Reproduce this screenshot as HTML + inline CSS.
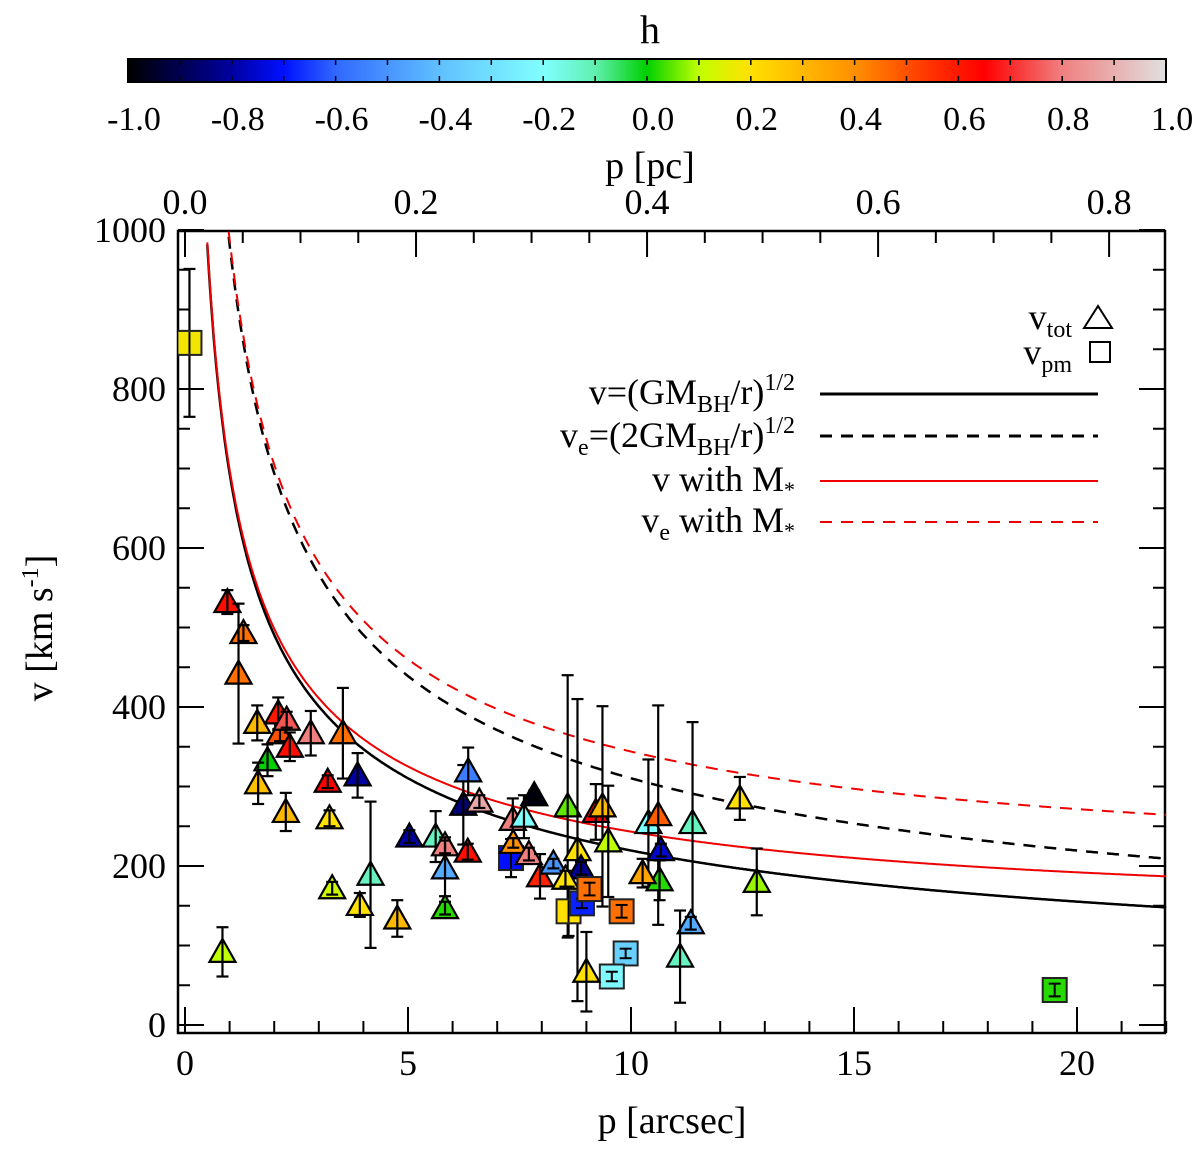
<!DOCTYPE html>
<html><head><meta charset="utf-8"><style>
html,body{margin:0;padding:0;background:#fff;}
svg{display:block;font-family:"Liberation Serif",serif;}
</style></head><body>
<svg id="chart" width="1200" height="1149" viewBox="0 0 1200 1149" xmlns="http://www.w3.org/2000/svg">
<defs><linearGradient id="cbgrad" x1="0" x2="1" y1="0" y2="0"></linearGradient></defs>
<g id="cb"></g>
<g id="axes"></g>
<g id="curves"></g>
<g id="pts"></g>
<g id="legend">
 <text x="1072" y="329" font-size="36" text-anchor="end">v<tspan font-size="24" dy="8">tot</tspan></text>
 <polygon points="1084,328 1098,306 1112,328" fill="none" stroke="#000" stroke-width="2"/>
 <text x="1072" y="364" font-size="36" text-anchor="end">v<tspan font-size="24" dy="8">pm</tspan></text>
 <rect x="1090" y="342" width="20" height="20" fill="none" stroke="#000" stroke-width="2"/>
 <text x="795" y="404" font-size="36" text-anchor="end">v=(GM<tspan font-size="24" dy="8">BH</tspan><tspan dy="-8">/r)</tspan><tspan font-size="24" dy="-14">1/2</tspan></text>
 <line x1="820" y1="394" x2="1098" y2="394" stroke="#000" stroke-width="3"/>
 <text x="795" y="447" font-size="36" text-anchor="end">v<tspan font-size="24" dy="8">e</tspan><tspan dy="-8">=(2GM</tspan><tspan font-size="24" dy="8">BH</tspan><tspan dy="-8">/r)</tspan><tspan font-size="24" dy="-14">1/2</tspan></text>
 <line x1="820" y1="436" x2="1098" y2="436" stroke="#000" stroke-width="3" stroke-dasharray="12,9"/>
 <text x="795" y="491" font-size="36" text-anchor="end">v with M<tspan font-size="22" dy="6">*</tspan></text>
 <line x1="820" y1="481" x2="1098" y2="481" stroke="#e00" stroke-width="2"/>
 <text x="795" y="532" font-size="36" text-anchor="end">v<tspan font-size="24" dy="8">e</tspan><tspan dy="-8"> with M</tspan><tspan font-size="22" dy="6">*</tspan></text>
 <line x1="820" y1="522" x2="1098" y2="522" stroke="#e00" stroke-width="2" stroke-dasharray="12,9"/>
</g>
</svg>
<script>
// ---- data ----
const pArc = [0.1,0.95,1.31,1.2,1.62,2.09,2.13,2.28,2.35,2.82,3.54,1.85,1.64,3.2,3.87,2.26,3.24,5.03,5.62,5.83,6.34,5.83,5.83,4.16,3.3,3.92,4.76,0.84,6.24,6.35,6.6,7.35,7.6,7.83,7.31,7.36,7.71,7.96,8.26,8.58,8.8,8.88,8.53,8.6,8.9,9.07,9.79,9.88,9.57,9.0,9.21,9.36,9.49,10.39,10.61,10.67,10.64,10.26,11.38,11.34,11.1,12.44,12.82,19.5];
const vel = [858,532,493,442,380,392,367,384,350,367,367,333,304,306,314,268,260,237,237,226,218,197,147,189,172,151,134,92,277,319,281,258,262,289,210,229,215,187,203,275,220,197,184,143,153,171,143,90,61,67,268,275,231,254,264,220,182,191,254,128,86,285,180,44];
const errV = [93,15,10,88,22,20,10,10,18,28,57,20,26,8,28,24,10,8,32,10,10,35,8,92,8,15,23,31,50,30,8,27,27,6,24,6,8,28,6,165,190,8,10,31,6,8,8,6,6,50,35,126,70,80,138,8,25,18,127,8,58,27,42,8];
const hVal = [0.18,0.62,0.45,0.45,0.3,0.6,0.5,0.75,0.62,0.8,0.45,0.0,0.28,0.65,-0.8,0.3,0.2,-0.8,-0.12,0.8,0.62,-0.45,0.02,-0.12,0.12,0.2,0.3,0.1,-0.85,-0.55,0.88,0.8,-0.2,-0.98,-0.7,0.4,0.8,0.58,-0.5,0.05,0.2,-0.82,0.2,0.2,-0.68,0.45,0.45,-0.35,-0.22,0.2,0.65,0.3,0.1,-0.2,0.48,-0.75,0.02,0.35,-0.12,-0.45,-0.12,0.2,0.08,0.02];
const kind = ['s','t','t','t','t','t','t','t','t','t','t','t','t','t','t','t','t','t','t','t','t','t','t','t','t','t','t','t','t','t','t','t','t','t','s','t','t','t','t','t','t','t','t','s','s','s','s','s','s','t','t','t','t','t','t','t','t','t','t','t','t','t','t','s'];
const yTicks = [0,200,400,600,800,1000];
const xTicks = [0,5,10,15,20];
const pcTicks = [0.0,0.2,0.4,0.6,0.8];
const cbTicks = [-1.0,-0.8,-0.6,-0.4,-0.2,0.0,0.2,0.4,0.6,0.8,1.0];
const cmapPos = [-1,-0.8,-0.7,-0.6,-0.4,-0.2,-0.1,0,0.1,0.2,0.4,0.55,0.65,0.8,1];
const cmapCol = ['#000000','#0000a0','#0010ff','#3068ff','#60c0ff','#80ffff','#60f0b0','#00d000','#c0ff00','#ffe000','#ff9000','#ff3000','#ff0000','#f08080','#e0e0e0'];
const GMconst = 694, starC = 6624, starExp = 0.22, arcPerPc = 25.9;

// ---- scales ----
const L=178,R=1165,T=231,B=1033;
const X = p => 185 + p*44.6;
const Y = v => 1025 - v*0.795;
const NS='http://www.w3.org/2000/svg';
function mk(tag, parent, attrs){const e=document.createElementNS(NS,tag);for(const k in attrs)e.setAttribute(k,attrs[k]);parent.appendChild(e);return e;}
function hex(c){return [parseInt(c.slice(1,3),16),parseInt(c.slice(3,5),16),parseInt(c.slice(5,7),16)];}
function cmap(h){
  for(let i=0;i<cmapPos.length-1;i++){ if(h<=cmapPos[i+1]){const t=(h-cmapPos[i])/(cmapPos[i+1]-cmapPos[i]);const a=hex(cmapCol[i]),b=hex(cmapCol[i+1]);return 'rgb('+a.map((x,j)=>Math.round(x+(b[j]-x)*Math.max(0,Math.min(1,t)))).join(',')+')';}}
  return cmapCol[cmapCol.length-1];
}

// ---- colorbar ----
const cb=document.getElementById('cb');
const grad=document.getElementById('cbgrad');
cmapPos.forEach((pp,i)=>{mk('stop',grad,{offset:((pp+1)/2*100)+'%','stop-color':cmapCol[i]});});
const cbL=128,cbR=1166,cbT=59,cbB=82;
const cbX=h=>cbL+(h+1)/2*(cbR-cbL);
let r=mk('rect',cb,{x:cbL,y:cbT,width:cbR-cbL,height:cbB-cbT,fill:'url(#cbgrad)',stroke:'#000','stroke-width':2});


for(let h=-1;h<=1.001;h+=0.1){const x=cbX(h);mk('line',cb,{x1:x,y1:cbT,x2:x,y2:cbT+6,stroke:'#000','stroke-width':1.5});mk('line',cb,{x1:x,y1:cbB,x2:x,y2:cbB-6,stroke:'#000','stroke-width':1.5});}
cbTicks.forEach(h=>{const t=mk('text',cb,{x:cbX(h)+6,y:130,'font-size':34,'text-anchor':'middle'});t.textContent=h.toFixed(1);

});
let ht=mk('text',cb,{x:650,y:43,'font-size':40,'text-anchor':'middle'});ht.textContent='h';



// ---- axes ----
const ax=document.getElementById('axes');
let fr=mk('rect',ax,{x:L,y:T,width:R-L,height:B-T,fill:'none',stroke:'#000','stroke-width':2.5});


for(let v=0;v<=1000;v+=50){const y=Y(v),len=v%200===0?26:12;mk('line',ax,{x1:L,y1:y,x2:L+len,y2:y,stroke:'#000','stroke-width':2});mk('line',ax,{x1:R,y1:y,x2:R-len,y2:y,stroke:'#000','stroke-width':2});}
for(let p=0;p<=22;p+=1){const x=X(p),len=p%5===0?26:12;mk('line',ax,{x1:x,y1:B,x2:x,y2:B-len,stroke:'#000','stroke-width':2});}
for(let q=0;q<=0.85;q+=0.05){const x=X(q*arcPerPc);const len=Math.abs(q*10-Math.round(q*10))<0.01&&Math.round(q*10)%2===0?26:12;mk('line',ax,{x1:x,y1:T,x2:x,y2:T+len,stroke:'#000','stroke-width':2});}
yTicks.forEach(v=>{const t=mk('text',ax,{x:166,y:Y(v)+12,'font-size':36,'text-anchor':'end'});t.textContent=v;

});
xTicks.forEach(p=>{const t=mk('text',ax,{x:X(p),y:1075,'font-size':36,'text-anchor':'middle'});t.textContent=p;

});
pcTicks.forEach(q=>{const t=mk('text',ax,{x:X(q*arcPerPc),y:214,'font-size':36,'text-anchor':'middle'});t.textContent=q.toFixed(1);

});
let xl=mk('text',ax,{x:672,y:1133,'font-size':38,'text-anchor':'middle'});xl.textContent='p [arcsec]';


let tl=mk('text',ax,{x:650,y:178,'font-size':38,'text-anchor':'middle'});tl.textContent='p [pc]';


let yl=mk('text',ax,{x:0,y:0,'font-size':38,'text-anchor':'middle',transform:'translate(52,628) rotate(-90)'});
yl.innerHTML='v [km s<tspan font-size="24" dy="-14">-1</tspan><tspan dy="14">]</tspan>';



// ---- curves ----
const cv=document.getElementById('curves');
function curvePath(f){let d='';let started=false;for(let p=0.3;p<=22.001;p+=0.02){const v=f(p);if(v>1000)continue;d+=(started?'L':'M')+X(p).toFixed(1)+','+Y(v).toFixed(1);started=true;}return d;}
const fBH=p=>GMconst/Math.sqrt(p);
const fBHe=p=>Math.SQRT2*GMconst/Math.sqrt(p);
const fS=p=>Math.sqrt(GMconst*GMconst/p+starC*Math.pow(p,starExp));
const fSe=p=>Math.SQRT2*fS(p);
[[fBH,'#000','none',2.5,'curve-v-bh'],[fBHe,'#000','12,9',2.5,'curve-ve-bh'],[fS,'#e00','none',2,'curve-v-mstar'],[fSe,'#e00','12,9',2,'curve-ve-mstar']].forEach(c=>{
 const pe=mk('path',cv,{d:curvePath(c[0]),fill:'none',stroke:c[1],'stroke-width':c[3],'stroke-dasharray':c[2]});
 
 
});

// ---- points ----
const pg=document.getElementById('pts');
const clip=mk('clipPath',pg,{id:'pc'});mk('rect',clip,{x:L,y:T,width:R-L,height:B-T});
pg.setAttribute('clip-path','url(#pc)');
for(let i=0;i<pArc.length;i++){
 const x=X(pArc[i]),y=Y(vel[i]),y1=Y(vel[i]+errV[i]),y2=Y(vel[i]-errV[i]);
 const g=mk('g',pg,{});
 
 
 const col=cmap(hVal[i]);
 const eb=()=>{mk('line',g,{x1:x,y1:y1,x2:x,y2:y2,stroke:'#000','stroke-width':2.2});mk('line',g,{x1:x-6,y1:y1,x2:x+6,y2:y1,stroke:'#000','stroke-width':2.2});mk('line',g,{x1:x-6,y1:y2,x2:x+6,y2:y2,stroke:'#000','stroke-width':2.2});};
 if(kind[i]==='t'){
   mk('polygon',g,{points:(x-13)+','+(y+10)+' '+x+','+(y-13)+' '+(x+13)+','+(y+10),fill:col,stroke:'#000','stroke-width':2.2});
   eb();
 } else {
   eb();
   mk('rect',g,{x:x-12,y:y-12,width:24,height:24,fill:col,stroke:'#222','stroke-width':2});
   mk('line',g,{x1:x,y1:Math.max(y1,y-11),x2:x,y2:Math.min(y2,y+11),stroke:'#000','stroke-width':2});
   if(errV[i]<11){mk('line',g,{x1:x-6,y1:y1,x2:x+6,y2:y1,stroke:'#000','stroke-width':2});mk('line',g,{x1:x-6,y1:y2,x2:x+6,y2:y2,stroke:'#000','stroke-width':2});}
 }
}
</script>
</body></html>
